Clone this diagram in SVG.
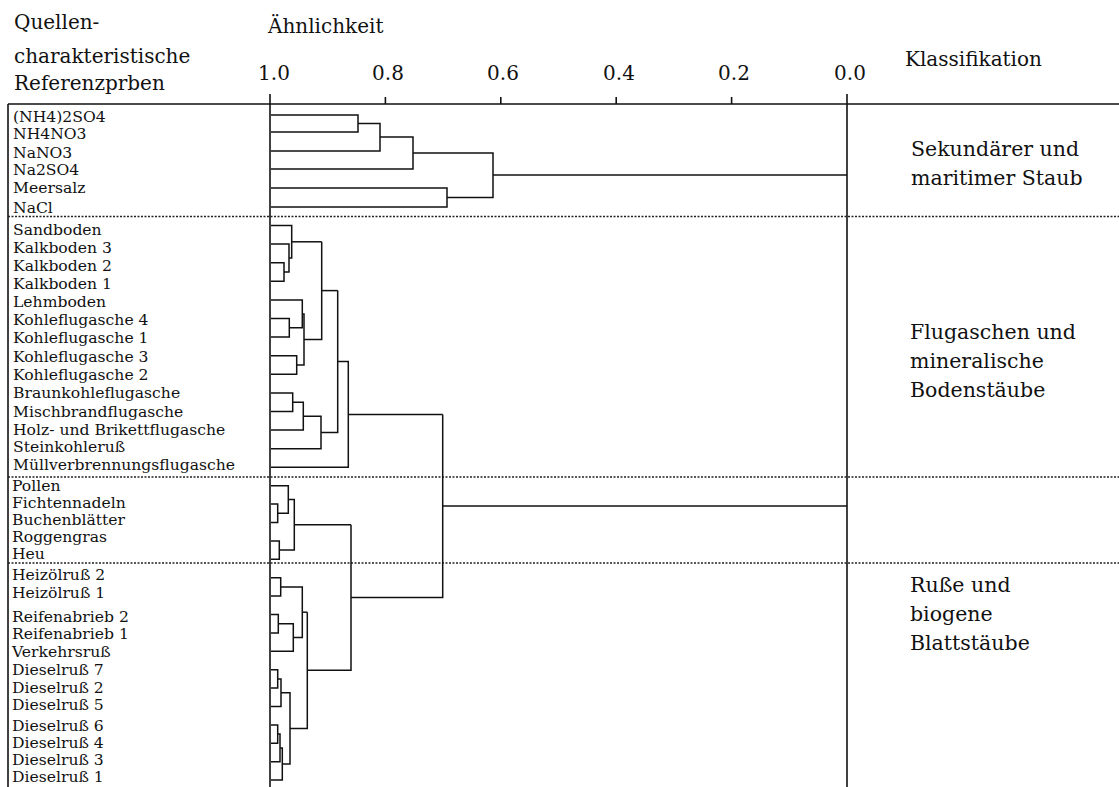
<svg xmlns="http://www.w3.org/2000/svg" width="1119" height="787" viewBox="0 0 1119 787">
<style>
  .hd { font-family: "DejaVu Serif", "Liberation Serif", serif; font-size: 20px; fill: #111; }
  .num { font-family: "DejaVu Serif", "Liberation Serif", serif; font-size: 20px; fill: #111; text-anchor: middle; }
  .lb { font-family: "DejaVu Serif", "Liberation Serif", serif; font-size: 15.6px; fill: #111; }
  .cl { font-family: "DejaVu Serif", "Liberation Serif", serif; font-size: 20.5px; fill: #111; }
  .ax { stroke: #111; stroke-width: 1.6; fill: none; }
  .dd { stroke: #111; stroke-width: 1.5; fill: none; }
  .dot { stroke: #222; stroke-width: 1.5; stroke-dasharray: 2 1.5; fill: none; }
</style>
<rect width="1119" height="787" fill="#fff"/>

<g id="header">
  <text class="hd" x="14" y="29">Quellen-</text>
  <text class="hd" x="14" y="63">charakteristische</text>
  <text class="hd" x="14" y="90">Referenzprben</text>
  <text class="hd" x="268" y="33">Ähnlichkeit</text>
  <text class="hd" x="905" y="66">Klassifikation</text>
</g>

<g id="axis">
  <line class="ax" x1="8" y1="104" x2="1119" y2="104" stroke-width="2"/>
  <line class="ax" x1="8" y1="104" x2="8" y2="787"/>
  <line class="ax" x1="270" y1="94" x2="270" y2="787"/>
  <line class="ax" x1="847" y1="94" x2="847" y2="787"/>
  <line class="ax" x1="385.4" y1="97" x2="385.4" y2="104"/>
  <line class="ax" x1="500.8" y1="97" x2="500.8" y2="104"/>
  <line class="ax" x1="616.2" y1="97" x2="616.2" y2="104"/>
  <line class="ax" x1="731.6" y1="97" x2="731.6" y2="104"/>
  <text class="num" x="274" y="80">1.0</text>
  <text class="num" x="388" y="80">0.8</text>
  <text class="num" x="503" y="80">0.6</text>
  <text class="num" x="619" y="80">0.4</text>
  <text class="num" x="734" y="80">0.2</text>
  <text class="num" x="850" y="80">0.0</text>
</g>

<g id="separators">
  <line class="dot" x1="8" y1="216.5" x2="1119" y2="216.5"/>
  <line class="dot" x1="8" y1="477" x2="1119" y2="477"/>
  <line class="dot" x1="8" y1="563" x2="1119" y2="563"/>
</g>

<g id="leaves-top">
  <g id="n-nh42so4"><text class="lb" x="13" y="122">(NH4)2SO4</text></g>
  <g id="n-nh4no3"><text class="lb" x="13" y="139">NH4NO3</text></g>
  <g id="n-nano3"><text class="lb" x="13" y="158">NaNO3</text></g>
  <g id="n-na2so4"><text class="lb" x="13" y="175">Na2SO4</text></g>
  <g id="n-meersalz"><text class="lb" x="13" y="193">Meersalz</text></g>
  <g id="n-nacl"><text class="lb" x="13" y="213">NaCl</text></g>
</g>

<g id="leaves-mid">
  <g id="n-sandboden"><text class="lb" x="13" y="235">Sandboden</text></g>
  <g id="n-kalkboden3"><text class="lb" x="13" y="253">Kalkboden 3</text></g>
  <g id="n-kalkboden2"><text class="lb" x="13" y="271">Kalkboden 2</text></g>
  <g id="n-kalkboden1"><text class="lb" x="13" y="289">Kalkboden 1</text></g>
  <g id="n-lehmboden"><text class="lb" x="13" y="307">Lehmboden</text></g>
  <g id="n-kfa4"><text class="lb" x="13" y="325">Kohleflugasche 4</text></g>
  <g id="n-kfa1"><text class="lb" x="13" y="343">Kohleflugasche 1</text></g>
  <g id="n-kfa3"><text class="lb" x="13" y="361.5">Kohleflugasche 3</text></g>
  <g id="n-kfa2"><text class="lb" x="13" y="380">Kohleflugasche 2</text></g>
  <g id="n-braunkohle"><text class="lb" x="13" y="398">Braunkohleflugasche</text></g>
  <g id="n-mischbrand"><text class="lb" x="13" y="416.5">Mischbrandflugasche</text></g>
  <g id="n-holz"><text class="lb" x="13" y="434.5">Holz- und Brikettflugasche</text></g>
  <g id="n-steinkohle"><text class="lb" x="13" y="452">Steinkohleruß</text></g>
  <g id="n-muell"><text class="lb" x="13" y="469.5">Müllverbrennungsflugasche</text></g>
</g>

<g id="leaves-bottom">
  <g id="n-pollen"><text class="lb" x="12" y="490.5">Pollen</text></g>
  <g id="n-fichtennadeln"><text class="lb" x="12" y="508">Fichtennadeln</text></g>
  <g id="n-buchenblaetter"><text class="lb" x="12" y="525">Buchenblätter</text></g>
  <g id="n-roggengras"><text class="lb" x="12" y="541.5">Roggengras</text></g>
  <g id="n-heu"><text class="lb" x="12" y="559">Heu</text></g>
  <g id="n-heizoel2"><text class="lb" x="12" y="580">Heizölruß 2</text></g>
  <g id="n-heizoel1"><text class="lb" x="12" y="598">Heizölruß 1</text></g>
  <g id="n-reifen2"><text class="lb" x="12" y="621.5">Reifenabrieb 2</text></g>
  <g id="n-reifen1"><text class="lb" x="12" y="639">Reifenabrieb 1</text></g>
  <g id="n-verkehr"><text class="lb" x="12" y="657">Verkehrsruß</text></g>
  <g id="n-diesel7"><text class="lb" x="12" y="675">Dieselruß 7</text></g>
  <g id="n-diesel2"><text class="lb" x="12" y="692.5">Dieselruß 2</text></g>
  <g id="n-diesel5"><text class="lb" x="12" y="710">Dieselruß 5</text></g>
  <g id="n-diesel6"><text class="lb" x="12" y="730.5">Dieselruß 6</text></g>
  <g id="n-diesel4"><text class="lb" x="12" y="748">Dieselruß 4</text></g>
  <g id="n-diesel3"><text class="lb" x="12" y="765">Dieselruß 3</text></g>
  <g id="n-diesel1"><text class="lb" x="12" y="782">Dieselruß 1</text></g>
</g>

<g id="classes">
  <g id="c-sekundaer">
    <text class="cl" x="911" y="156">Sekundärer und</text>
    <text class="cl" x="911" y="185">maritimer Staub</text>
  </g>
  <g id="c-flugaschen">
    <text class="cl" x="910" y="339">Flugaschen und</text>
    <text class="cl" x="910" y="368">mineralische</text>
    <text class="cl" x="910" y="397">Bodenstäube</text>
  </g>
  <g id="c-russe">
    <text class="cl" x="910" y="592">Ruße und</text>
    <text class="cl" x="910" y="621">biogene</text>
    <text class="cl" x="910" y="650">Blattstäube</text>
  </g>
</g>

<g id="connectors">
  <!-- top cluster -->
  <path class="dd" d="M271,115 H358 V132 H271"/>
  <path class="dd" d="M358,123.5 H380 V151 H271"/>
  <path class="dd" d="M380,137 H413 V169 H271"/>
  <path class="dd" d="M271,188 H447 V207 H271"/>
  <path class="dd" d="M413,153 H493 V197.5 H447"/>
  <path class="dd" d="M493,175 H847"/>
  <!-- middle cluster -->
  <path class="dd" d="M271,262.7 H284 V281.3 H271"/>
  <path class="dd" d="M284,272 H289 V244.1 H271"/>
  <path class="dd" d="M289,258 H291.7 V225.5 H271"/>
  <path class="dd" d="M291.7,241.8 H321.7"/>
  <path class="dd" d="M271,318.5 H289.3 V337.1 H271"/>
  <path class="dd" d="M289.3,327.8 H302.3 V299.9 H271"/>
  <path class="dd" d="M271,355.7 H296.7 V374.3 H271"/>
  <path class="dd" d="M302.3,313.9 H304 V365 H296.7"/>
  <path class="dd" d="M304,339.4 H321.7 V241.8"/>
  <path class="dd" d="M321.7,290.6 H337.7"/>
  <path class="dd" d="M271,392.9 H292.7 V411.5 H271"/>
  <path class="dd" d="M292.7,402.2 H303.3 V430.1 H271"/>
  <path class="dd" d="M303.3,416.2 H321 V448.7 H271"/>
  <path class="dd" d="M321,432.4 H337.7 V290.6"/>
  <path class="dd" d="M337.7,361.5 H348.3 V467.3 H271"/>
  <path class="dd" d="M348.3,414.4 H442.7"/>
  <!-- bottom cluster -->
  <path class="dd" d="M271,504.1 H277.7 V522.5 H271"/>
  <path class="dd" d="M277.7,513.3 H288.3 V485.7 H271"/>
  <path class="dd" d="M271,540.9 H279.3 V559.3 H271"/>
  <path class="dd" d="M288.3,499.5 H294.3 V550.1 H279.3"/>
  <path class="dd" d="M294.3,524.8 H351"/>
  <path class="dd" d="M271,577.7 H280.7 V596.1 H271"/>
  <path class="dd" d="M271,614.5 H278.3 V632.9 H271"/>
  <path class="dd" d="M278.3,623.7 H293.3 V651.3 H271"/>
  <path class="dd" d="M280.7,586.9 H302.3 V637.5 H293.3"/>
  <path class="dd" d="M302.3,612.2 H307.3"/>
  <path class="dd" d="M271,669.7 H277.7 V688.1 H271"/>
  <path class="dd" d="M277.7,678.9 H281 V706.5 H271"/>
  <path class="dd" d="M271,724.9 H277.7 V743.3 H271"/>
  <path class="dd" d="M277.7,734.1 H280 V761.7 H271"/>
  <path class="dd" d="M280,747.9 H282.3 V780.1 H271"/>
  <path class="dd" d="M281,692.7 H290 V764 H282.3"/>
  <path class="dd" d="M290,728.4 H307.3 V612.2"/>
  <path class="dd" d="M307.3,670.3 H351 V524.8"/>
  <path class="dd" d="M351,597.5 H442.7 V414.4"/>
  <path class="dd" d="M442.7,506 H847"/>
</g>
</svg>
